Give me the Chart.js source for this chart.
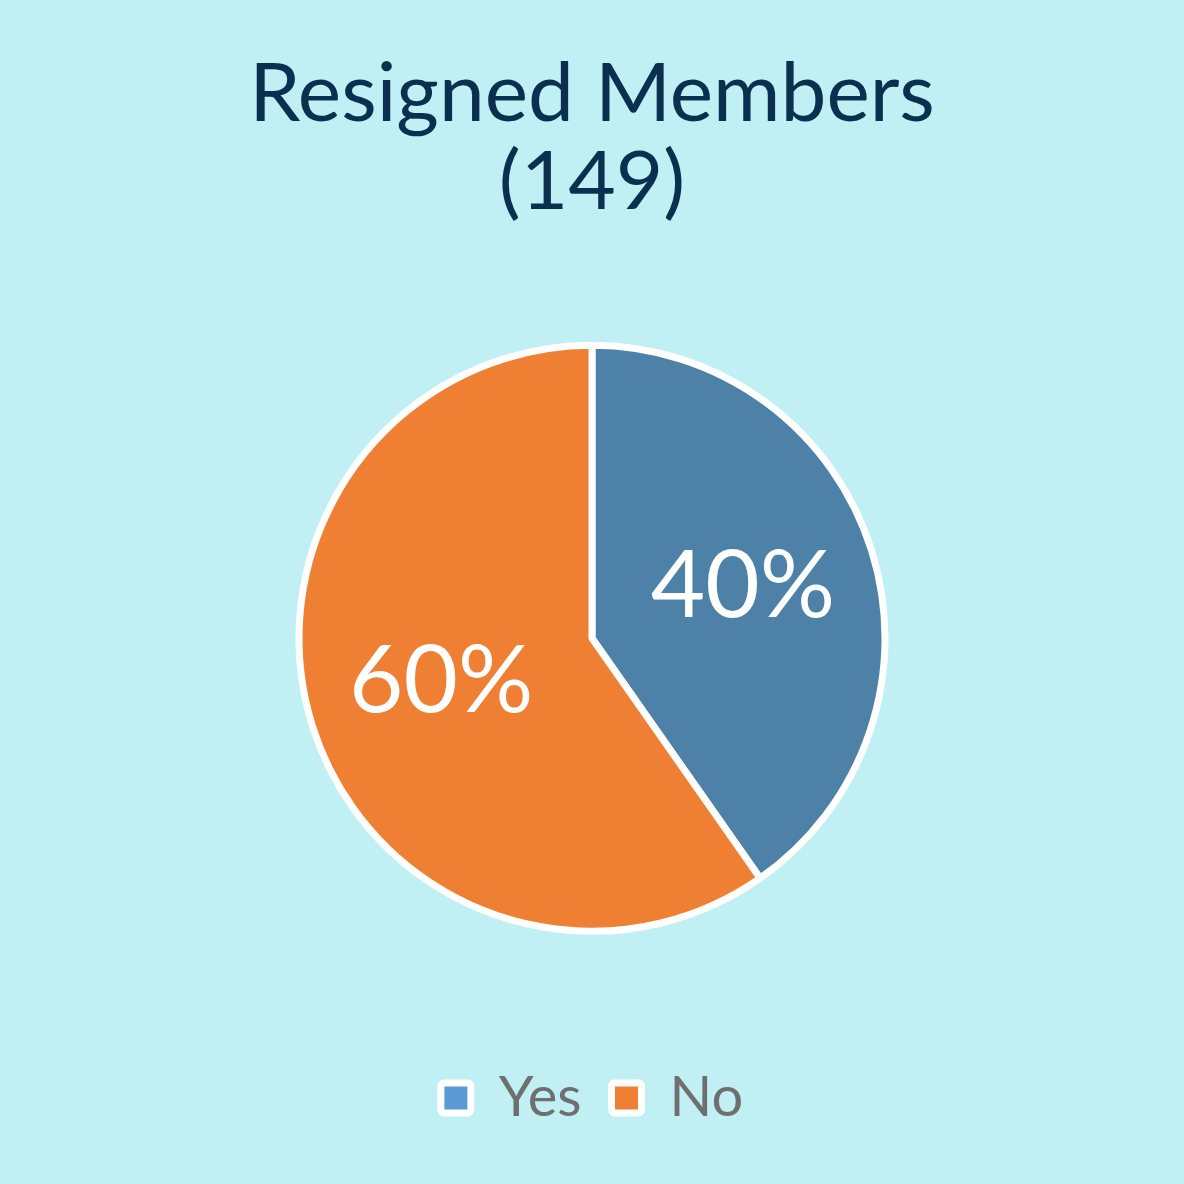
<!DOCTYPE html>
<html>
<head>
<meta charset="utf-8">
<script src="https://cdn.jsdelivr.net/npm/chart.js@4.4.0/dist/chart.umd.min.js"></script>
<style>
  html, body { margin: 0; padding: 0; background: #c0f0f4; }
  #wrap { width: 1184px; height: 1184px; }
</style>
</head>
<body>
<div id="wrap"><canvas id="resignedChart"></canvas></div>
<script>
// data
const categories = ['Yes', 'No'];
const counts = [60, 89];
const percentLabels = ['40%', '60%'];
const sliceColors = ['#4d81a8', '#ee7f33'];
const legendColors = ['#5b9bd5', '#ee7f33'];

// white percentage text inside each slice
const sliceLabels = {
    id: 'sliceLabels',
    afterDatasetsDraw(chart) {
        const ctx = chart.ctx;
        const meta = chart.getDatasetMeta(0);
        ctx.save();
        ctx.fillStyle = '#ffffff';
        ctx.font = '94px Lato';
        ctx.textAlign = 'center';
        ctx.textBaseline = 'middle';
        meta.data.forEach((arc, i) => {
            const p = arc.getProps(['x', 'y', 'startAngle', 'endAngle', 'outerRadius']);
            const mid = (p.startAngle + p.endAngle) / 2;
            const r = p.outerRadius * 0.54;
            ctx.fillText(percentLabels[i], p.x + Math.cos(mid) * r, p.y + Math.sin(mid) * r - 4);
        });
        ctx.restore();
    }
};

const ctx = document.getElementById('resignedChart').getContext('2d');
const resignedChart = new Chart(ctx, {
    type: 'pie',
    data: {
        labels: categories,
        datasets: [{
            data: counts,
            backgroundColor: sliceColors,
            borderColor: '#ffffff',
            borderWidth: 7,
            radius: 293
        }]
    },
    options: {
        responsive: true,
        maintainAspectRatio: false,
        animation: false,
        layout: {
            padding: { left: 0, right: 0, top: 0, bottom: 48 }
        },
        plugins: {
            title: {
                display: true,
                text: ['Resigned Members', '(149)'],
                color: '#0b2f4f',
                font: { family: 'Lato', size: 82, weight: 'normal', lineHeight: 1.07 },
                padding: { top: 51, bottom: 10 }
            },
            legend: {
                position: 'bottom',
                labels: {
                    color: '#6f6f6f',
                    font: { family: 'Lato', size: 56 },
                    boxWidth: 30,
                    boxHeight: 30,
                    padding: 30,
                    generateLabels(chart) {
                        return categories.map((c, i) => ({
                            text: c,
                            fillStyle: legendColors[i],
                            strokeStyle: '#ffffff',
                            lineWidth: 7,
                            borderRadius: 3,
                            fontColor: '#6f6f6f',
                            index: i,
                            datasetIndex: 0
                        }));
                    }
                }
            },
            tooltip: { enabled: false }
        }
    },
    plugins: [sliceLabels]
});
</script>
</body>
</html>
